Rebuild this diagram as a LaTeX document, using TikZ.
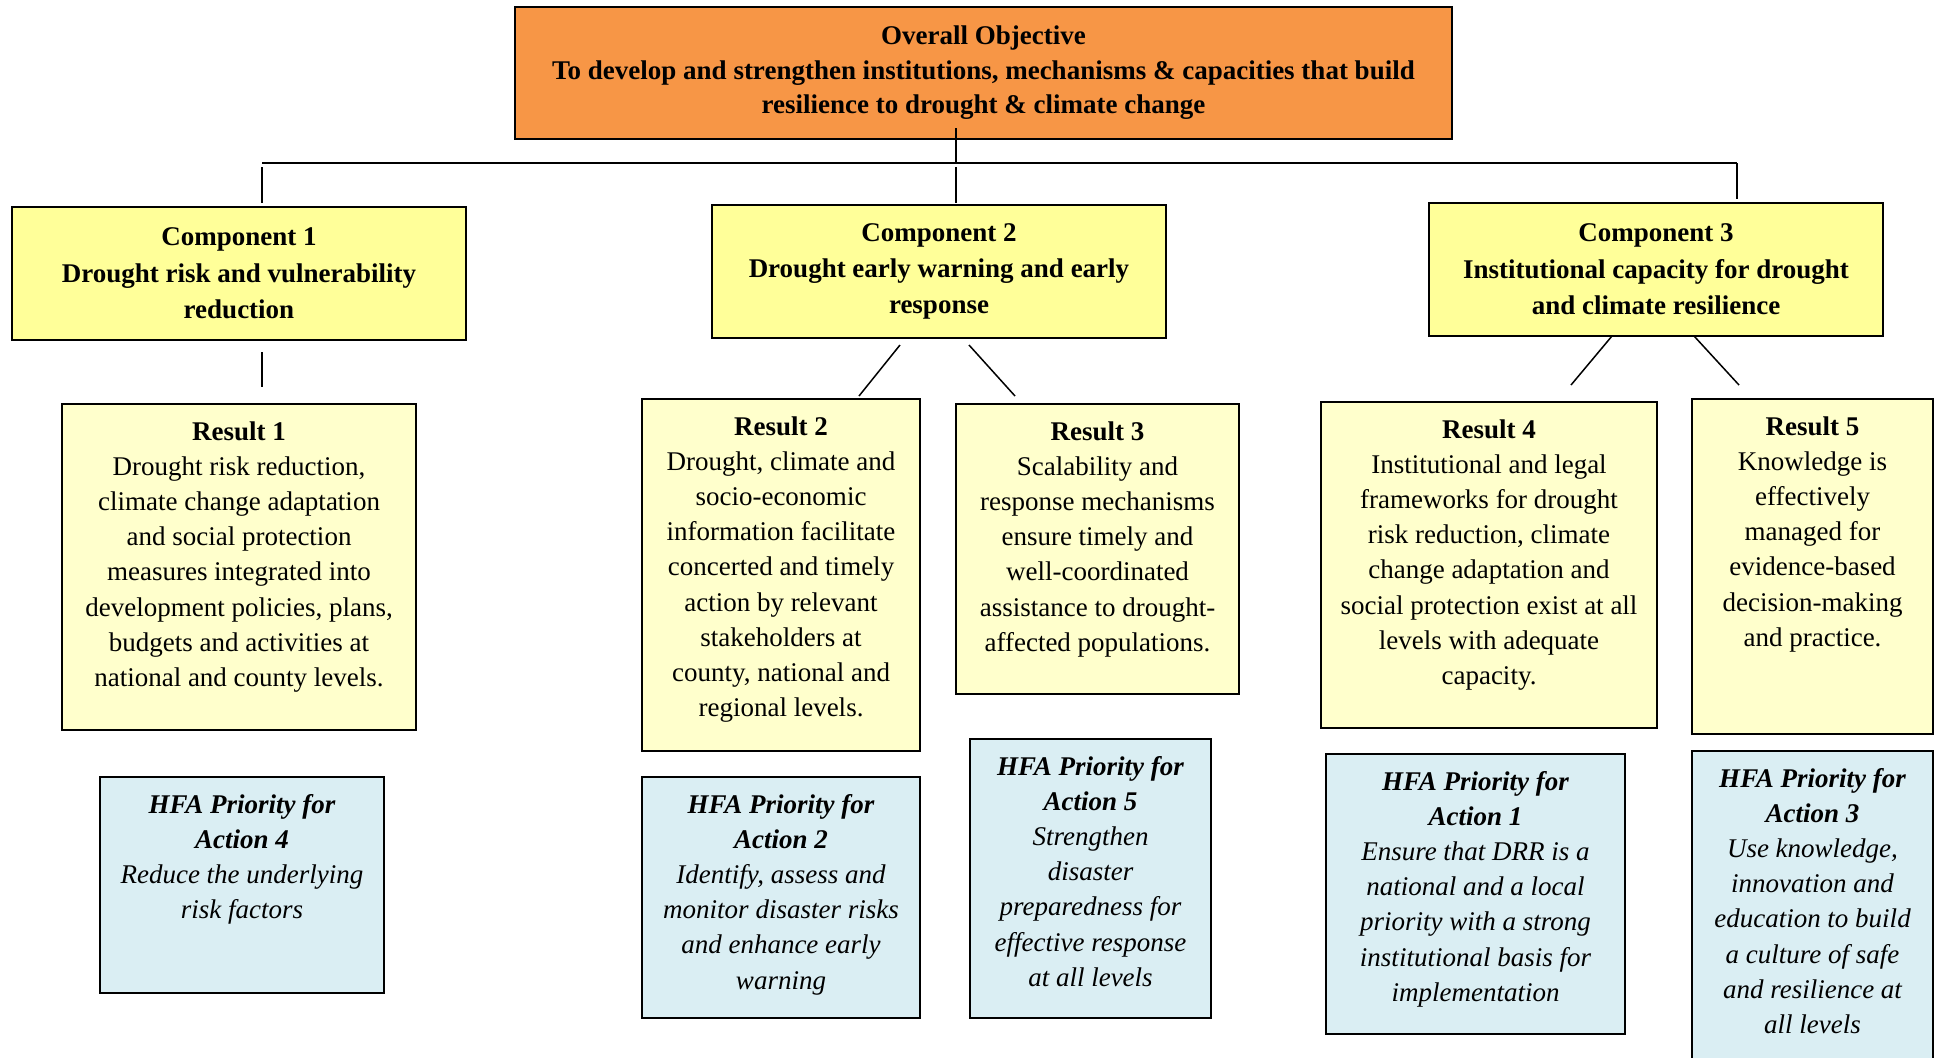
\documentclass[tikz,border=0pt]{standalone}
\usepackage{fontspec}
\setmainfont{Liberation Serif}
\definecolor{objorange}{HTML}{F79646}
\definecolor{compyellow}{HTML}{FFFF99}
\definecolor{resyellow}{HTML}{FFFFCC}
\definecolor{hfablue}{HTML}{DAEEF3}
\newcommand{\boxtop}[3]{\parbox[c][#2][t]{#1}{\centering\rule{0pt}{18pt}#3}}

\begin{document}
\begin{tikzpicture}[x=0.5pt,y=-0.5pt,
    every node/.style={font=\fontsize{13.5pt}{17.6pt}\selectfont, inner sep=0pt},
    objbox/.style={draw=black, line width=1pt, fill=objorange, align=center, minimum width=468.5pt, minimum height=66pt, font=\fontsize{13.5pt}{17.3pt}\selectfont\bfseries},
    compbox/.style={draw=black, line width=1pt, fill=compyellow, align=center, minimum width=227pt, minimum height=66.5pt, font=\fontsize{13.5pt}{18.2pt}\selectfont\bfseries},
    resbox/.style={draw=black, line width=1pt, fill=resyellow},
    hfabox/.style={draw=black, line width=1pt, fill=hfablue},
    conn/.style={line width=0.75pt}]

\useasboundingbox (0,0) rectangle (1935,1057);

\node [objbox]  (obj)   at ( 983.5, 73.0) {Overall Objective\\To develop and strengthen institutions, mechanisms \& capacities that build\\resilience to drought \& climate change};

\node [compbox] (comp1) at ( 239.0,273.5) {Component 1\\Drought risk and vulnerability\\reduction};
\node [compbox] (comp2) at ( 939.0,271.5) {Component 2\\Drought early warning and early\\response};
\node [compbox] (comp3) at (1656.0,269.5) {Component 3\\Institutional capacity for drought\\and climate resilience};

\node [resbox]  (res1)  at ( 239.0,567.0) {\boxtop{177pt}{163pt}{\textbf{Result 1}\\Drought risk reduction,\\climate change adaptation\\and social protection\\measures integrated into\\development policies, plans,\\budgets and activities at\\national and county levels.}};
\node [resbox]  (res2)  at ( 781.0,575.0) {\boxtop{139pt}{176pt}{\textbf{Result 2}\\Drought, climate and\\socio-economic\\information facilitate\\concerted and timely\\action by relevant\\stakeholders at\\county, national and\\regional levels.}};
\node [resbox]  (res3)  at (1097.5,549.0) {\boxtop{141.5pt}{145pt}{\textbf{Result 3}\\Scalability and\\response mechanisms\\ensure timely and\\well-coordinated\\assistance to drought-\\affected populations.}};
\node [resbox]  (res4)  at (1489.0,565.0) {\boxtop{168pt}{163pt}{\textbf{Result 4}\\Institutional and legal\\frameworks for drought\\risk reduction, climate\\change adaptation and\\social protection exist at all\\levels with adequate\\capacity.}};
\node [resbox]  (res5)  at (1812.5,566.5) {\boxtop{120.5pt}{167.5pt}{\textbf{Result 5}\\Knowledge is\\effectively\\managed for\\evidence-based\\decision-making\\and practice.}};

\node [hfabox]  (hfa4)  at ( 242.0,885.0) {\boxtop{142pt}{108pt}{\itshape\bfseries HFA Priority for\\Action 4\\\mdseries Reduce the underlying\\risk factors}};
\node [hfabox]  (hfa2)  at ( 781.0,897.5) {\boxtop{139pt}{120.5pt}{\itshape\bfseries HFA Priority for\\Action 2\\\mdseries Identify, assess and\\monitor disaster risks\\and enhance early\\warning}};
\node [hfabox]  (hfa5)  at (1090.5,878.5) {\boxtop{120.5pt}{139.5pt}{\itshape\bfseries HFA Priority for\\Action 5\\\mdseries Strengthen\\disaster\\preparedness for\\effective response\\at all levels}};
\node [hfabox]  (hfa1)  at (1475.5,894.0) {\boxtop{149.5pt}{140pt}{\itshape\bfseries HFA Priority for\\Action 1\\\mdseries Ensure that DRR is a\\national and a local\\priority with a strong\\institutional basis for\\implementation}};
\node [hfabox]  (hfa3)  at (1812.5,915.5) {\boxtop{120.5pt}{164.5pt}{\itshape\bfseries HFA Priority for\\Action 3\\\mdseries Use knowledge,\\innovation and\\education to build\\a culture of safe\\and resilience at\\all levels}};

\coordinate (objfoot) at ( 956,128);
\coordinate (hubM)    at ( 956,163);
\coordinate (hubL)    at ( 262,163);
\coordinate (hubR)    at (1737,163);
\coordinate (c1drop)  at ( 262,167);
\coordinate (c1head)  at ( 262,203);
\coordinate (c2drop)  at ( 956,167);
\coordinate (c2head)  at ( 956,203);
\coordinate (c3head)  at (1737,199);
\coordinate (c1foot)  at ( 262,352);
\coordinate (r1head)  at ( 262,387);
\coordinate (c2footL) at ( 900,345);
\coordinate (r2head)  at ( 859,396);
\coordinate (c2footR) at ( 969,345);
\coordinate (r3head)  at (1015,396);
\coordinate (c3footL) at (1612,336);
\coordinate (r4head)  at (1571,385);
\coordinate (c3footR) at (1694,336);
\coordinate (r5head)  at (1739,385);

\draw [conn] (objfoot) -- (hubM);
\draw [conn] (hubL) -- (hubR);
\draw [conn] (c1drop) -- (c1head);
\draw [conn] (c2drop) -- (c2head);
\draw [conn] (hubR) -- (c3head);
\draw [conn] (c1foot) -- (r1head);
\draw [conn] (c2footL) -- (r2head);
\draw [conn] (c2footR) -- (r3head);
\draw [conn] (c3footL) -- (r4head);
\draw [conn] (c3footR) -- (r5head);

\end{tikzpicture}
\end{document}
